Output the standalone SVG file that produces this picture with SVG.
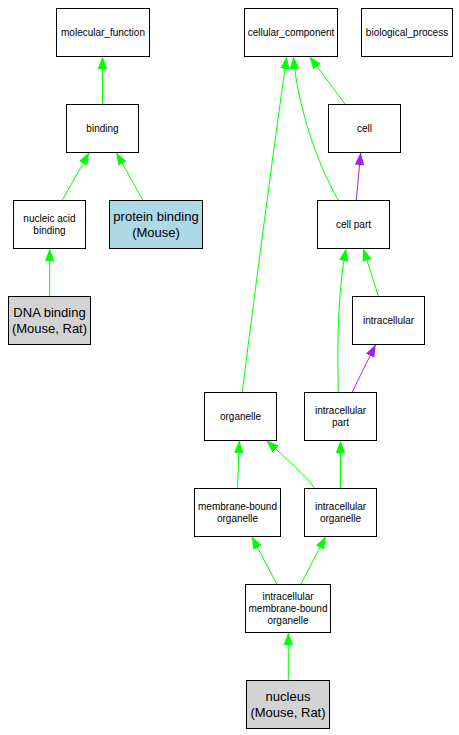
<svg xmlns="http://www.w3.org/2000/svg" width="459" height="735" viewBox="0 0 459 735">
<style>
.n rect{fill:#fff;stroke:#000;stroke-width:1}
.n.blue rect{fill:#ADD8E6}
.n.gray rect{fill:#D3D3D3}
text{font-family:"Liberation Sans",Arial,sans-serif;font-size:10px;text-anchor:middle;fill:#000}
text.big{font-size:13px}
.e path{fill:none;stroke-width:1}
.g{stroke:#00FF00}
.p{stroke:#A020F0}
</style>
<defs>
<marker id="ag" viewBox="0 0 12.5 10" refX="12.5" refY="5" markerWidth="12.5" markerHeight="10" markerUnits="userSpaceOnUse" orient="auto"><path d="M0,0.3 L12.5,5 L0,9.7 Z" fill="#00FF00"/></marker>
<marker id="ap" viewBox="0 0 12.5 10" refX="12.5" refY="5" markerWidth="12.5" markerHeight="10" markerUnits="userSpaceOnUse" orient="auto"><path d="M0,0.3 L12.5,5 L0,9.7 Z" fill="#A020F0"/></marker>
</defs>
<rect width="459" height="735" fill="#fff"/>
<g id="edges" class="e">
<path class="g" d="M102.5,104 L102.5,56.5" marker-end="url(#ag)"/>
<path class="g" d="M62.3,200 L89.3,152.5" marker-end="url(#ag)"/>
<path class="g" d="M142.7,200 L116.3,152.5" marker-end="url(#ag)"/>
<path class="g" d="M49.7,296 L49.7,248.5" marker-end="url(#ag)"/>
<path class="g" d="M345,104 L309.5,56.5" marker-end="url(#ag)"/>
<path class="g" d="M338.3,200 C318,166 297,105 293.5,56.5" marker-end="url(#ag)"/>
<path class="g" d="M242.3,392 C246,360 276,130 286.7,56.5" marker-end="url(#ag)"/>
<path class="p" d="M356.3,200 L360.7,152.5" marker-end="url(#ap)"/>
<path class="g" d="M338.3,392 C337,340 338,290 346,248.5" marker-end="url(#ag)"/>
<path class="g" d="M378.3,296 L363.3,248.5" marker-end="url(#ag)"/>
<path class="p" d="M352.3,392 C358,380 368,360 375.7,344.5" marker-end="url(#ap)"/>
<path class="g" d="M237.5,488 L239.3,440.5" marker-end="url(#ag)"/>
<path class="g" d="M314.3,488 C308,478 290,462 266.3,440.5" marker-end="url(#ag)"/>
<path class="g" d="M340.5,488 L340.5,440.5" marker-end="url(#ag)"/>
<path class="g" d="M276.7,584 L251.7,536.5" marker-end="url(#ag)"/>
<path class="g" d="M301,584 L325.7,536.5" marker-end="url(#ag)"/>
<path class="g" d="M288.3,680 L288.3,632.5" marker-end="url(#ag)"/>
</g>
<g id="molecular_function" class="n"><rect x="56.5" y="8.5" width="93" height="48"/><text x="103" y="36">molecular_function</text></g>
<g id="cellular_component" class="n"><rect x="244.5" y="8.5" width="93" height="48"/><text x="291" y="36">cellular_component</text></g>
<g id="biological_process" class="n"><rect x="361.5" y="8.5" width="91" height="48"/><text x="407" y="36">biological_process</text></g>
<g id="binding" class="n"><rect x="66.5" y="104.5" width="72" height="48"/><text x="102.5" y="132">binding</text></g>
<g id="cell" class="n"><rect x="328.5" y="104.5" width="72" height="48"/><text x="364.5" y="132">cell</text></g>
<g id="nucleic_acid_binding" class="n"><rect x="13.5" y="200.5" width="72" height="48"/><text x="49.5" y="222">nucleic acid</text><text x="49.5" y="234">binding</text></g>
<g id="protein_binding" class="n blue"><rect x="109.5" y="200.5" width="93" height="48"/><text class="big" x="156" y="220.5">protein binding</text><text class="big" x="156" y="236.5">(Mouse)</text></g>
<g id="cell_part" class="n"><rect x="317.5" y="200.5" width="72" height="48"/><text x="353.5" y="228">cell part</text></g>
<g id="DNA_binding" class="n gray"><rect x="8.5" y="296.5" width="82" height="48"/><text class="big" x="49.5" y="316.5">DNA binding</text><text class="big" x="49.5" y="332.5">(Mouse, Rat)</text></g>
<g id="intracellular" class="n"><rect x="352.5" y="296.5" width="72" height="48"/><text x="388.5" y="324">intracellular</text></g>
<g id="organelle" class="n"><rect x="204.5" y="392.5" width="72" height="48"/><text x="240.5" y="420">organelle</text></g>
<g id="intracellular_part" class="n"><rect x="304.5" y="392.5" width="72" height="48"/><text x="340.5" y="414">intracellular</text><text x="340.5" y="426">part</text></g>
<g id="membrane_bound_organelle" class="n"><rect x="194.5" y="488.5" width="86" height="48"/><text x="237.5" y="510">membrane-bound</text><text x="237.5" y="522">organelle</text></g>
<g id="intracellular_organelle" class="n"><rect x="304.5" y="488.5" width="72" height="48"/><text x="340.5" y="510">intracellular</text><text x="340.5" y="522">organelle</text></g>
<g id="intracellular_membrane_bound_organelle" class="n"><rect x="245.5" y="584.5" width="85" height="48"/><text x="288" y="600">intracellular</text><text x="288" y="612">membrane-bound</text><text x="288" y="624">organelle</text></g>
<g id="nucleus" class="n gray"><rect x="246.5" y="680.5" width="83" height="48"/><text class="big" x="288" y="700.5">nucleus</text><text class="big" x="288" y="716.5">(Mouse, Rat)</text></g>
</svg>
